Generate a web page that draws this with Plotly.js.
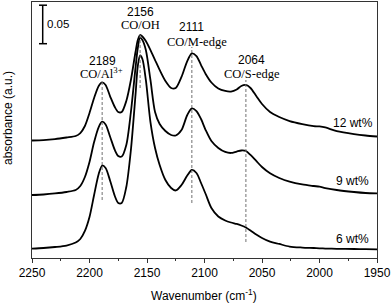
<!DOCTYPE html>
<html>
<head>
<meta charset="utf-8">
<script src="https://cdn.plot.ly/plotly-3.0.1.min.js"></script>
<style>html,body{margin:0;padding:0;background:#fff;}#chart{width:392px;height:303px;}</style>
</head>
<body>
<div id="chart"></div>
<script>
// Wavenumber grid (cm-1)
const wavenumber = [2250, 2240, 2230, 2220, 2212, 2208, 2204, 2200, 2196, 2192, 2189, 2186, 2182, 2178, 2175, 2172, 2168, 2164, 2160, 2158, 2156, 2154, 2151, 2147, 2143, 2139, 2134, 2129, 2125, 2120, 2115, 2111, 2107, 2103, 2099, 2094, 2088, 2082, 2077, 2072, 2068, 2064, 2060, 2055, 2050, 2043, 2035, 2026, 2015, 2005, 2000, 1995, 1985, 1970, 1960, 1950];

// Absorbance (offset, a.u.)
const abs12 = [0.1526, 0.1532, 0.1545, 0.1565, 0.1584, 0.1623, 0.1714, 0.1883, 0.2078, 0.2234, 0.2282, 0.2247, 0.2097, 0.1961, 0.1896, 0.1896, 0.2039, 0.2312, 0.2675, 0.2831, 0.2896, 0.2877, 0.2818, 0.2701, 0.2571, 0.2442, 0.2299, 0.2208, 0.2208, 0.2351, 0.2558, 0.2658, 0.2623, 0.2506, 0.2390, 0.2279, 0.2201, 0.2169, 0.2162, 0.2188, 0.2234, 0.2247, 0.2208, 0.2104, 0.2000, 0.1896, 0.1831, 0.1779, 0.1740, 0.1714, 0.1708, 0.1695, 0.1649, 0.1610, 0.1591, 0.1578];
const abs9 = [0.0818, 0.0825, 0.0838, 0.0857, 0.0883, 0.0935, 0.1052, 0.1247, 0.1506, 0.1701, 0.1770, 0.1734, 0.1571, 0.1403, 0.1325, 0.1318, 0.1468, 0.1896, 0.2468, 0.2727, 0.2861, 0.2831, 0.2701, 0.2312, 0.1896, 0.1740, 0.1649, 0.1597, 0.1591, 0.1662, 0.1857, 0.1944, 0.1909, 0.1805, 0.1662, 0.1519, 0.1429, 0.1377, 0.1364, 0.1383, 0.1396, 0.1390, 0.1338, 0.1260, 0.1182, 0.1100, 0.1039, 0.0991, 0.0955, 0.0935, 0.0926, 0.0909, 0.0883, 0.0857, 0.0844, 0.0838];
const abs6 = [0.0123, 0.0130, 0.0143, 0.0162, 0.0201, 0.0247, 0.0351, 0.0532, 0.0818, 0.1091, 0.1201, 0.1169, 0.1000, 0.0805, 0.0714, 0.0714, 0.0922, 0.1403, 0.2117, 0.2494, 0.2630, 0.2584, 0.2312, 0.1766, 0.1429, 0.1208, 0.1013, 0.0909, 0.0877, 0.0948, 0.1071, 0.1143, 0.1104, 0.0974, 0.0831, 0.0649, 0.0539, 0.0487, 0.0461, 0.0442, 0.0422, 0.0396, 0.0357, 0.0305, 0.0260, 0.0212, 0.0182, 0.0149, 0.0136, 0.0130, 0.0126, 0.0123, 0.0119, 0.0117, 0.0114, 0.0113];

const seriesNames = ['12 wt%', '9 wt%', '6 wt%'];
const peaks = [2189, 2156, 2111, 2064];
const peakNames = ['CO/Al<sup>3+</sup>', 'CO/OH', 'CO/M-edge', 'CO/S-edge'];
const xTicks = [2250, 2200, 2150, 2100, 2050, 2000, 1950];
const scaleBar = 0.05;

// layout geometry (pixels)
const W = 392, H = 303, L = 32, R = 15, T = 2, B = 45;
const PW = W - L - R, PH = H - T - B;
const px = p => (p - L) / PW;
const py = p => (H - B - p) / PH;
const yMax = PH / 770;

const sans = 'Liberation Sans, Arial, sans-serif';
const serif = 'Liberation Serif, Times New Roman, serif';

const series = [abs12, abs9, abs6];
const traces = series.map((s, i) => ({
  x: wavenumber, y: s, type: 'scatter', mode: 'lines', name: seriesNames[i],
  line: {color: '#000', width: 1.8, shape: 'spline', smoothing: 0.8},
  hoverinfo: 'skip'
}));

// dashed marker lines (pixel extents)
const dashY = [[80, 200], [34, 88], [47, 203], [80, 242]];
const shapes = peaks.map((p, i) => ({
  type: 'line', xref: 'x', yref: 'paper', x0: p, x1: p,
  y0: py(dashY[i][1]), y1: py(dashY[i][0]),
  line: {color: '#707070', width: 1, dash: '3px,2px'}
}));
// scale bar
const sbTop = yMax - py(5) * 0 ; // placeholder not used
const sbY0 = (H - B - 43.7) / 770, sbY1 = sbY0 + scaleBar;
shapes.push({type: 'line', xref: 'paper', yref: 'y', x0: px(42.7), x1: px(42.7), y0: sbY0, y1: sbY1, line: {color: '#000', width: 1.5}});
shapes.push({type: 'line', xref: 'paper', yref: 'y', x0: px(39), x1: px(47), y0: sbY0, y1: sbY0, line: {color: '#000', width: 1.5}});
shapes.push({type: 'line', xref: 'paper', yref: 'y', x0: px(39), x1: px(47), y0: sbY1, y1: sbY1, line: {color: '#000', width: 1.5}});

const numPos = [[0, 61], [0, 12], [0, 27], [6, 60]];
const namePos = [[-1, 73], [0, 25], [5, 41.7], [6, 74]];
const annotations = [];
peaks.forEach((p, i) => {
  annotations.push({x: p, xref: 'x', xshift: numPos[i][0], y: py(numPos[i][1]), yref: 'paper',
    text: String(p), showarrow: false, xanchor: 'center', yanchor: 'middle',
    font: {family: sans, size: 12, color: '#000'}});
  annotations.push({x: p, xref: 'x', xshift: namePos[i][0], y: py(namePos[i][1]), yref: 'paper',
    text: peakNames[i], showarrow: false, xanchor: 'center', yanchor: 'middle',
    font: {family: serif, size: 12.5, color: '#000'}});
});
const labY = [123.3, 181, 239.3];
const labX = [375, 371, 371];
seriesNames.forEach((n, i) => {
  annotations.push({x: px(labX[i]), xref: 'paper', y: py(labY[i]), yref: 'paper', text: n,
    showarrow: false, xanchor: 'right', yanchor: 'middle', font: {family: sans, size: 12, color: '#000'}});
});
annotations.push({x: px(45), xref: 'paper', y: py(24), yref: 'paper', text: String(scaleBar),
  showarrow: false, xanchor: 'left', yanchor: 'middle', font: {family: sans, size: 11.5, color: '#000'}});
annotations.push({x: px(8), xref: 'paper', y: py(118), yref: 'paper', text: 'absorbance (a.u.)',
  textangle: -90, showarrow: false, xanchor: 'center', yanchor: 'middle', font: {family: sans, size: 12, color: '#000'}});
annotations.push({x: px(204), xref: 'paper', y: py(295), yref: 'paper', text: 'Wavenumber (cm<sup>-1</sup>)',
  showarrow: false, xanchor: 'center', yanchor: 'middle', font: {family: sans, size: 12, color: '#000'}});

const layout = {
  width: W, height: H,
  margin: {l: L, r: R, t: T, b: B, pad: 0},
  paper_bgcolor: '#fff', plot_bgcolor: '#fff',
  showlegend: false,
  xaxis: {
    range: [2250, 1950], tickvals: xTicks, ticktext: xTicks.map(String),
    ticks: 'outside', ticklen: 4, tickwidth: 1, tickcolor: '#333',
    minor: {dtick: 25, tick0: 2250, ticks: 'outside', ticklen: 2, tickcolor: '#333'},
    showline: true, mirror: true, linecolor: '#333', linewidth: 1,
    showgrid: false, zeroline: false,
    tickfont: {family: sans, size: 12, color: '#000'}
  },
  yaxis: {
    range: [0, yMax], showticklabels: false, ticks: '',
    showline: true, mirror: true, linecolor: '#333', linewidth: 1,
    showgrid: false, zeroline: false
  },
  shapes: shapes,
  annotations: annotations
};

Plotly.newPlot('chart', traces, layout, {staticPlot: true, displayModeBar: false});
</script>
</body>
</html>
